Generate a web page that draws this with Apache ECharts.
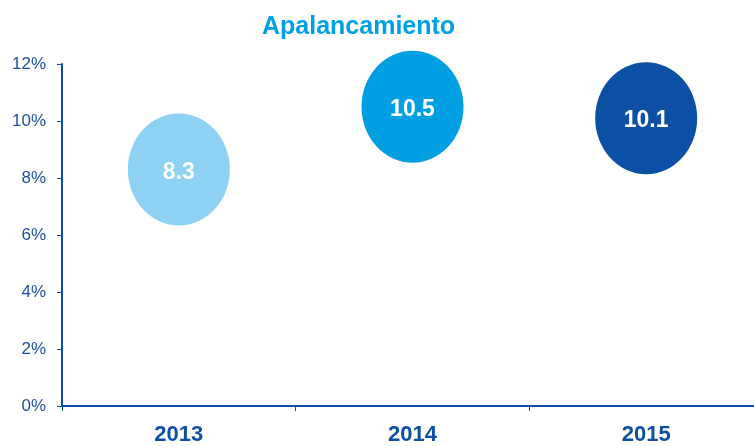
<!DOCTYPE html>
<html>
<head>
<meta charset="utf-8">
<script src="https://cdn.jsdelivr.net/npm/echarts@6/dist/echarts.min.js"></script>
<style>
*{margin:0;padding:0;}
body{background:#fff;overflow:hidden;}
/* chart is a bit wider than the window: the last category is cut at the right edge */
#chart{width:763px;height:446px;}
</style>
</head>
<body>
<div id="chart"></div>
<script>
var years = ['2013', '2014', '2015']
var values = [8.3, 10.5, 10.1]
var bubbleColors = ['#8dd2f2', '#009fe3', '#0b50a5']

var axisBlue = '#0d4fa3'

var chart = echarts.init(document.getElementById('chart'))
var option = {
  animation: false,
  title: {
    text: 'Apalancamiento',
    left: 257,
    top: 10,
    textStyle: {
      color: '#00a0e4',
      fontSize: 25,
      fontWeight: 'bold',
      fontFamily: 'Liberation Sans'
    }
  },
  grid: {
    left: 62,
    right: 0,
    top: 64,
    bottom: 39
  },
  xAxis: {
    type: 'category',
    data: years,
    axisLine: {lineStyle: {color: axisBlue, width: 2}},
    axisTick: {show: true, length: 5, lineStyle: {color: axisBlue, width: 1}},
    axisLabel: {
      color: axisBlue,
      fontSize: 22,
      fontWeight: 'bold',
      fontFamily: 'Liberation Sans',
      margin: 18
    }
  },
  yAxis: {
    type: 'value',
    min: 0,
    max: 12,
    interval: 2,
    splitLine: {show: false},
    axisLine: {show: true, lineStyle: {color: axisBlue, width: 2}},
    axisTick: {show: true, length: 5, lineStyle: {color: axisBlue, width: 1}},
    axisLabel: {
      color: '#1f509f',
      fontSize: 17,
      fontFamily: 'Liberation Sans',
      margin: 16,
      formatter: '{value}%'
    }
  },
  series: [
    {
      type: 'scatter',
      symbol: 'circle',
      symbolSize: [102, 112],
      data: values.map(function (v, i) {
        return {value: v, itemStyle: {color: bubbleColors[i], opacity: 1}}
      }),
      label: {
        show: true,
        position: 'inside',
        offset: [0, 3],
        color: '#fff',
        fontSize: 23,
        fontWeight: 'bold',
        fontFamily: 'Liberation Sans',
        formatter: function (p) { return p.value.toFixed(1) }
      }
    }
  ]
}
chart.setOption(option)
</script>
</body>
</html>
